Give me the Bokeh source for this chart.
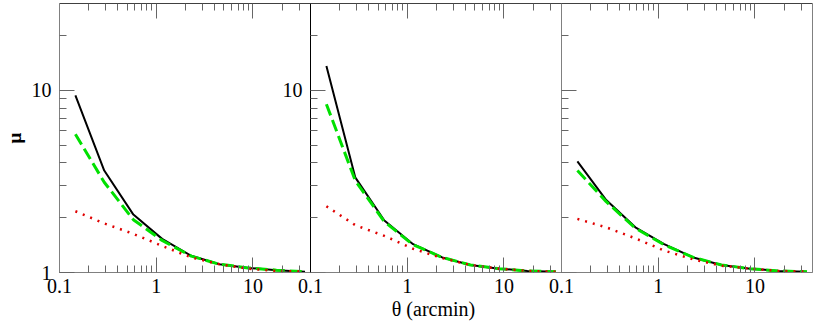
import math
from bokeh.plotting import figure
from bokeh.models import Range1d, LogScale, LogAxis, FixedTicker
from bokeh.embed import file_html
from bokeh.resources import INLINE

# ---------------- data ----------------
theta = [0.146, 0.29, 0.58, 1.15, 2.3, 4.5, 8.9, 17.5, 34.5]

mu_total_a = [9.4, 3.63, 2.08, 1.53, 1.235, 1.11, 1.06, 1.03, 1.01]
mu_dash_a = [5.75, 3.13, 1.95, 1.50, 1.23, 1.11, 1.06, 1.03, 1.01]
mu_dot_a = [2.17, 1.86, 1.63, 1.40, 1.21, 1.11, 1.05, 1.02, 1.01]

mu_total_b = [13.6, 3.33, 1.93, 1.43, 1.21, 1.10, 1.05, 1.02, 1.01]
mu_dash_b = [8.4, 3.2, 1.9, 1.42, 1.21, 1.10, 1.05, 1.02, 1.01]
mu_dot_b = [2.31, 1.82, 1.59, 1.35, 1.20, 1.10, 1.05, 1.02, 1.01]

mu_total_c = [4.08, 2.5, 1.77, 1.43, 1.21, 1.10, 1.05, 1.02, 1.01]
mu_dash_c = [3.63, 2.45, 1.75, 1.42, 1.21, 1.10, 1.05, 1.02, 1.01]
mu_dot_c = [1.97, 1.77, 1.54, 1.32, 1.18, 1.09, 1.05, 1.02, 1.01]

x_ticks_major = [0.1, 1, 10]
x_ticks_minor = [0.2, 0.3, 0.4, 0.5, 0.6, 0.7, 0.8, 0.9,
                 2, 3, 4, 5, 6, 7, 8, 9, 20, 30]
x_tick_labels = ["0.1", "1", "10"]

y_ticks_major = [1, 10]
y_ticks_minor = [2, 3, 4, 5, 6, 7, 8, 9, 20]
y_tick_labels = ["1", "10"]

x_title = "θ  (arcmin)"
y_title = "μ"

# ---------------- layout ----------------
XMIN, XMAX = 0.1, 39.3
YMIN, YMAX = 1.0, 30.0
PANEL_W = 253
NPAN = 3
L = math.log10(XMAX / XMIN)

FONT = "Liberation Serif"
TICK_COL = "#666666"


def panel_range(k):
    return Range1d(XMIN * 10 ** (-k * L), XMIN * 10 ** ((NPAN - k) * L))


def shift(vals, k):
    # position of a panel-k value expressed in the first panel's range
    return [float(v) * 10 ** (k * L) for v in vals]


BL, BR, BT = 53, 4, 3
FRAME_H = 269
W = BL + NPAN * PANEL_W + BR
H = 322
BB = H - BT - FRAME_H

p = figure(width=W, height=H, x_axis_type=None, y_axis_type=None,
           x_range=panel_range(0), y_range=Range1d(YMIN, YMAX),
           output_backend="svg", toolbar_location=None,
           min_border_left=BL, min_border_right=BR,
           min_border_top=BT, min_border_bottom=BB)
p.x_scale = LogScale()
p.y_scale = LogScale()
p.extra_x_ranges = {"p2": panel_range(1), "p3": panel_range(2)}
p.extra_x_scales = {"p2": LogScale(), "p3": LogScale()}
p.outline_line_color = "#808080"
p.outline_line_width = 1
p.background_fill_color = "white"
p.border_fill_color = "white"

names = ["default", "p2", "p3"]


def style(ax):
    ax.major_tick_in = 15
    ax.major_tick_out = 0
    ax.minor_tick_in = 7
    ax.minor_tick_out = 0
    ax.major_tick_line_color = TICK_COL
    ax.minor_tick_line_color = TICK_COL
    ax.major_label_text_font = FONT
    ax.major_label_text_font_size = "20px"
    ax.major_label_text_color = "black"
    ax.axis_line_color = None


# all three panels' x ticks, expressed in the first panel's range
all_major, all_minor, overrides = [], [], {}
for k in range(NPAN):
    mj = shift(x_ticks_major, k)
    all_major += mj
    all_minor += shift(x_ticks_minor, k)
    for v, lab in zip(mj, x_tick_labels):
        overrides[v] = lab

bx = LogAxis(ticker=FixedTicker(ticks=all_major, minor_ticks=all_minor))
style(bx)
bx.axis_line_color = "#808080"
bx.major_label_overrides = overrides
bx.major_label_standoff = 6
bx.axis_label = x_title
bx.axis_label_text_font = FONT
bx.axis_label_text_font_size = "20px"
bx.axis_label_text_font_style = "normal"
bx.axis_label_text_color = "black"
bx.axis_label_standoff = 2
p.add_layout(bx, "below")

tx = LogAxis(fixed_location=YMAX,
             ticker=FixedTicker(ticks=all_major, minor_ticks=all_minor))
style(tx)
tx.major_label_overrides = {v: "" for v in all_major}
tx.axis_line_color = "black"
p.add_layout(tx, "above")

# left axis of the first panel (with labels and title)
ly = LogAxis(ticker=FixedTicker(ticks=y_ticks_major, minor_ticks=y_ticks_minor))
style(ly)
ly.axis_line_color = "#808080"
ly.major_label_standoff = 8
ly.major_label_overrides = dict(zip(y_ticks_major, y_tick_labels))
ly.axis_label = y_title
ly.axis_label_text_font = FONT
ly.axis_label_text_font_size = "19px"
ly.axis_label_text_font_style = "bold"
ly.axis_label_text_color = "black"
ly.axis_label_standoff = 4
p.add_layout(ly, "left")

# inner panel borders: y axes placed inside the frame
for k, rn in enumerate(names[1:], start=1):
    iy = LogAxis(x_range_name=rn, fixed_location=XMIN,
                 ticker=FixedTicker(ticks=y_ticks_major, minor_ticks=y_ticks_minor))
    style(iy)
    iy.major_label_standoff = 8
    if k == 1:
        iy.major_label_overrides = {1: "", 10: "10"}
        iy.axis_line_color = "black"
    else:
        iy.major_label_overrides = {1: "", 10: ""}
        iy.axis_line_color = "#808080"
    p.add_layout(iy, "left")

series = [
    (mu_total_a, mu_dash_a, mu_dot_a),
    (mu_total_b, mu_dash_b, mu_dot_b),
    (mu_total_c, mu_dash_c, mu_dot_c),
]
for rn, (tot, dash, dot) in zip(names, series):
    p.line(theta, tot, x_range_name=rn, line_color="black", line_width=2)
    p.line(theta, dash, x_range_name=rn, line_color="#00e000", line_width=3,
           line_dash="12 5")
    p.line(theta, dot, x_range_name=rn, line_color="#e00000", line_width=2.5,
           line_dash="2 6")

open("out.html", "w").write(file_html(p, INLINE))
